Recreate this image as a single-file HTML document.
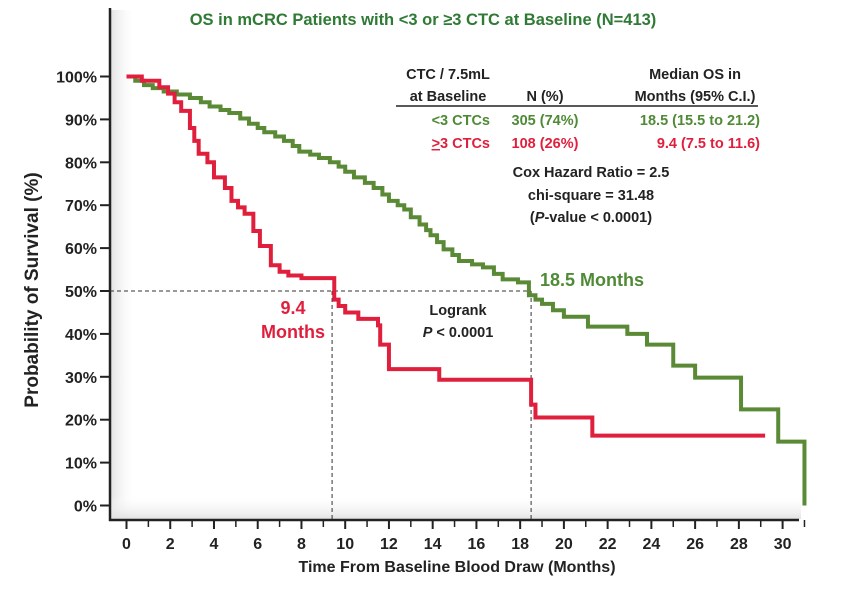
<!DOCTYPE html>
<html><head><meta charset="utf-8"><style>
body{margin:0;background:#fff;}
svg{display:block;font-family:"Liberation Sans",sans-serif;font-weight:bold;}
</style></head><body>
<svg id="chart" width="845" height="593" viewBox="0 0 845 593">
<defs>
<linearGradient id="lg" x1="0" x2="1"><stop offset="0" stop-color="#e2e2e2"/><stop offset="1" stop-color="#fff" stop-opacity="0"/></linearGradient>
<linearGradient id="bg" x1="0" y1="1" x2="0" y2="0"><stop offset="0" stop-color="#e2e2e2"/><stop offset="1" stop-color="#fff" stop-opacity="0"/></linearGradient>
</defs>
<rect x="111" y="10" width="25" height="509" fill="url(#lg)"/>
<rect x="111" y="495" width="690" height="24" fill="url(#bg)"/>
<text x="423" y="25" text-anchor="middle" font-size="16.5" fill="#2f7a35">OS in mCRC Patients with &lt;3 or ≥3 CTC at Baseline (N=413)</text>
<text transform="translate(38,290) rotate(-90)" text-anchor="middle" font-size="19" fill="#222">Probability of Survival (%)</text>
<text x="457" y="572" text-anchor="middle" font-size="16" fill="#222">Time From Baseline Blood Draw (Months)</text>
<g id="axes"></g>
<g id="guides"></g>
<g id="series"></g>
<g fill="#222" style="font-size:14.5px">
<text x="448" y="79" text-anchor="middle">CTC / 7.5mL</text>
<text x="448" y="101" text-anchor="middle">at Baseline</text>
<text x="545" y="101" text-anchor="middle">N (%)</text>
<text x="695" y="79" text-anchor="middle">Median OS in</text>
<text x="695" y="101" text-anchor="middle">Months (95% C.I.)</text>
<line x1="396" y1="106" x2="758" y2="106" stroke="#222" stroke-width="1.5"/>
<g fill="#4f8a36"><text x="490" y="125" text-anchor="end">&lt;3 CTCs</text><text x="545" y="125" text-anchor="middle">305 (74%)</text><text x="760" y="125" text-anchor="end">18.5 (15.5 to 21.2)</text></g>
<g fill="#e01f3d"><text x="490" y="148" text-anchor="end"><tspan text-decoration="underline">&gt;</tspan>3 CTCs</text><text x="545" y="148" text-anchor="middle">108 (26%)</text><text x="760" y="148" text-anchor="end">9.4 (7.5 to 11.6)</text></g>
<text x="591" y="177" text-anchor="middle">Cox Hazard Ratio = 2.5</text>
<text x="591" y="200" text-anchor="middle">chi-square = 31.48</text>
<text x="591" y="222" text-anchor="middle">(<tspan font-style="italic">P</tspan>-value &lt; 0.0001)</text>
<text x="458" y="315" text-anchor="middle">Logrank</text>
<text x="458" y="337" text-anchor="middle"><tspan font-style="italic">P</tspan> &lt; 0.0001</text>
</g>
<text x="540" y="286" font-size="18" fill="#4f8a36">18.5 Months</text>
<text x="293" y="314" text-anchor="middle" font-size="18" fill="#e01f3d">9.4</text>
<text x="293" y="338" text-anchor="middle" font-size="18" fill="#e01f3d">Months</text>
</svg>
<script>
const xTicks=[0,2,4,6,8,10,12,14,16,18,20,22,24,26,28,30];
const yTicks=[0,10,20,30,40,50,60,70,80,90,100];
const greenTimes=[0,0.4,0.8,1.2,1.7,2.3,2.9,3.4,3.8,4.3,4.7,5.2,5.6,6,6.3,6.8,7.2,7.6,7.9,8.4,8.8,9.3,9.7,10,10.4,10.9,11.3,11.7,12,12.4,12.7,13,13.4,13.7,13.9,14.2,14.5,14.9,15.2,15.8,16.3,16.8,17.2,17.9,18.4,18.7,19,19.5,20,21.1,22.9,23.8,25,26,28.1,29.8,31];
const greenSurv=[100,99,98,97.3,96.5,95.8,95,94,93,92.2,91.5,90.2,89,88,87,86,85,83.8,82.5,81.8,81,80,79,77.8,76.5,75.2,74,72.5,71,70,69,67.2,65.5,64.2,63,61.4,59.7,58.4,57,56.2,55.5,54,52.7,52,49,48,47,45.5,44,41.7,40,37.5,32.6,29.8,22.4,14.9,0];
const redTimes=[0,0.7,1.5,1.9,2.2,2.5,2.9,3.1,3.3,3.7,4,4.5,4.8,5.1,5.4,5.8,6.1,6.6,7,7.4,8,9.5,9.7,10,10.6,11.5,11.6,12,14.3,18.5,18.7,19.3,21.3];
const redSurv=[100,99,97.5,96,94,92,88,85,82,80,76.5,74,71,69.5,68,64,60.5,56,54.5,53.6,53,48,46.5,45,43.5,42,37.5,31.8,29.3,23.5,20.5,20.5,16.3];
const redEnd=29.2, greenEnd=31;
const medians=[9.4,18.5];
const NS="http://www.w3.org/2000/svg";
const X=m=>126.5+m*21.87, Y=p=>505.5-p*4.29;
function mk(tag,attrs,parent){const e=document.createElementNS(NS,tag);for(const k in attrs)e.setAttribute(k,attrs[k]);parent.appendChild(e);return e;}
const axes=document.getElementById('axes');
const ya=mk('line',{x1:110,y1:8,x2:110,y2:521,stroke:'#222','stroke-width':2.5},axes);


const xa=mk('line',{x1:109,y1:520,x2:799,y2:520,stroke:'#222','stroke-width':2.5},axes);


yTicks.forEach(v=>{
 const t=mk('line',{x1:100,x2:110,y1:Y(v),y2:Y(v),stroke:'#222','stroke-width':2},axes);
 
 
 const l=mk('text',{x:97,y:Y(v)+6,'text-anchor':'end','font-size':16,fill:'#222'},axes);
 l.textContent=v+'%';
 
 
});
for(let m=0;m<=31;m++){
 const t=mk('line',{x1:X(m),x2:X(m),y1:520,y2:m%2?527:529,stroke:'#222','stroke-width':m%2?1.5:2},axes);
 
 
}
xTicks.forEach(v=>{
 const l=mk('text',{x:X(v),y:549,'text-anchor':'middle','font-size':16,fill:'#222'},axes);
 l.textContent=v;
 
 
});
const g=document.getElementById('guides');
const h=mk('line',{x1:110,x2:X(medians[1]),y1:Y(50),y2:Y(50),stroke:'#333','stroke-width':1,'stroke-dasharray':'4,3'},g);


medians.forEach(m=>{
 const v=mk('line',{x1:X(m),x2:X(m),y1:Y(50),y2:519,stroke:'#333','stroke-width':1,'stroke-dasharray':'4,3'},g);
 
 
});
function stepPath(ts,ss,end){
 let d='M'+X(ts[0])+','+Y(ss[0]);
 for(let i=1;i<ts.length;i++){d+=' H'+X(ts[i])+' V'+Y(ss[i]);}
 d+=' H'+X(end);return d;
}
const s=document.getElementById('series');
const gp=mk('path',{d:stepPath(greenTimes,greenSurv,greenEnd),fill:'none',stroke:'#5a8a36','stroke-width':4},s);


const rp=mk('path',{d:stepPath(redTimes,redSurv,redEnd),fill:'none',stroke:'#e01f3d','stroke-width':4},s);


</script>
</body></html>
